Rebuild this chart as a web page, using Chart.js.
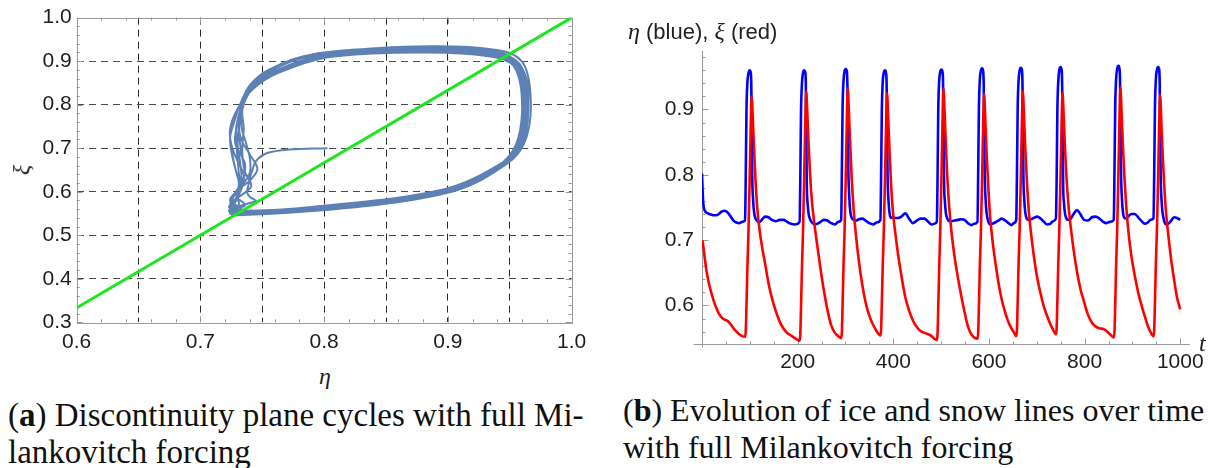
<!DOCTYPE html>
<html lang="en">
<head>
<meta charset="UTF-8">
<title>Discontinuity plane cycles</title>
<script src="https://cdn.jsdelivr.net/npm/chart.js"></script>
<style>
  body { margin: 0; background: #fff; width: 1210px; height: 468px; position: relative; overflow: hidden; font-family: 'Liberation Sans', Arial, sans-serif; }
  canvas { position: absolute; }
  #left { left: 0; top: 0; }
  #right { left: 600px; top: 0; }
  .lbl { position: absolute; color: #222; white-space: nowrap; line-height: 1; }
  .math { font-family: 'Liberation Serif', serif; font-style: italic; }
  .cap { position: absolute; font-family: 'Liberation Serif', serif; color: #111; white-space: nowrap; line-height: 1; }
</style>
</head>
<body>
<canvas id="left" width="600" height="360"></canvas>
<canvas id="right" width="610" height="380"></canvas>

<div class="lbl math" style="left:319px; top:364px; font-size:24px;">η</div>
<div class="lbl math" style="left:16px; top:158px; font-size:24px; transform:rotate(-90deg);">ξ</div>
<div class="lbl" style="left:628px; top:19px; font-size:22px;"><span class="math" style="font-size:24px">η</span> (blue), <span class="math" style="font-size:24px">ξ</span> (red)</div>
<div class="lbl math" style="left:1199px; top:331px; font-size:24px;">t</div>

<div class="cap" style="left:8px; top:399px; font-size:33px;">(<b>a</b>) Discontinuity plane cycles with full Mi-</div>
<div class="cap" style="left:8px; top:436px; font-size:33px;">lankovitch forcing</div>
<div class="cap" style="left:623px; top:394px; font-size:32px;">(<b>b</b>) Evolution of ice and snow lines over time</div>
<div class="cap" style="left:623px; top:431px; font-size:32px;">with full Milankovitch forcing</div>

<script>
// time samples, ice line (eta) and snow line (xi)
var tVals = [
  0, 1.5, 3, 6, 10, 15, 20, 25, 30, 35, 42, 48, 54, 60, 66, 72, 78, 84, 90,
  91.5, 93, 95, 97, 99.5, 102, 103, 104,
  105, 107, 109, 112, 116, 121, 126, 132, 139, 146, 154, 162, 170, 178, 186, 194, 204,
  205.5, 207, 209, 211, 213.5, 216, 217, 218,
  219, 221, 223, 226, 230, 235, 241, 248, 255, 262, 270, 278, 285, 291,
  292.5, 294, 296, 298, 300.5, 303, 304, 305,
  306, 308, 310, 313, 317, 322, 328, 335, 342, 350, 358, 365, 373,
  374.5, 376, 378, 380, 382.5, 385, 386, 387,
  388, 390, 392, 395, 399, 404, 410, 417, 425, 433, 441, 449, 457, 465, 473, 480, 486, 491,
  492.5, 494, 496, 498, 500.5, 503, 504, 505,
  506, 508, 510, 513, 517, 522, 528, 535, 542, 549, 556, 563, 569, 576,
  577.5, 579, 581, 583, 585.5, 588, 589, 590,
  591, 593, 595, 598, 602, 607, 613, 620, 627, 634, 641, 647, 652, 657,
  658.5, 660, 662, 664, 666.5, 669, 670, 671,
  672, 674, 676, 679, 683, 688, 694, 701, 708, 715, 722, 728, 734, 740,
  741.5, 743, 745, 747, 749.5, 752, 753, 754,
  755, 757, 759, 762, 766, 771, 777, 784, 791, 799, 807, 815, 823, 831, 839, 846, 853, 861,
  862.5, 864, 866, 868, 870.5, 873, 874, 875,
  876, 878, 880, 883, 887, 892, 898, 905, 912, 919, 926, 932, 938, 944,
  945.5, 947, 949, 951, 953.5, 956, 957, 958,
  959, 961, 963, 966, 970, 975, 981, 987, 993, 1000
];

var etaVals = [
  0.802, 0.772, 0.754, 0.745, 0.742, 0.740, 0.739, 0.738, 0.738, 0.740, 0.744, 0.745, 0.742, 0.736, 0.730, 0.727, 0.726, 0.728, 0.730,
  0.80, 0.90, 0.942, 0.955, 0.960, 0.956, 0.940, 0.880,
  0.80, 0.76, 0.742, 0.733, 0.729, 0.728, 0.732, 0.736, 0.735, 0.731, 0.729, 0.731, 0.731, 0.728, 0.725, 0.724, 0.728,
  0.79, 0.895, 0.940, 0.955, 0.960, 0.957, 0.942, 0.875,
  0.79, 0.755, 0.740, 0.732, 0.727, 0.724, 0.725, 0.728, 0.731, 0.730, 0.726, 0.724, 0.728, 0.731,
  0.81, 0.905, 0.945, 0.958, 0.962, 0.958, 0.938, 0.885,
  0.81, 0.765, 0.744, 0.734, 0.731, 0.730, 0.732, 0.733, 0.730, 0.726, 0.724, 0.727, 0.731,
  0.80, 0.898, 0.943, 0.956, 0.960, 0.955, 0.940, 0.878,
  0.80, 0.76, 0.742, 0.734, 0.735, 0.734, 0.734, 0.736, 0.741, 0.733, 0.726, 0.730, 0.733, 0.733, 0.728, 0.724, 0.725, 0.728,
  0.795, 0.90, 0.944, 0.957, 0.961, 0.957, 0.943, 0.882,
  0.795, 0.758, 0.741, 0.733, 0.729, 0.729, 0.730, 0.731, 0.732, 0.731, 0.726, 0.723, 0.725, 0.728,
  0.805, 0.903, 0.946, 0.959, 0.963, 0.958, 0.940, 0.876,
  0.805, 0.762, 0.742, 0.730, 0.724, 0.725, 0.727, 0.730, 0.733, 0.730, 0.726, 0.723, 0.726, 0.731,
  0.80, 0.90, 0.945, 0.959, 0.964, 0.960, 0.944, 0.884,
  0.80, 0.76, 0.742, 0.733, 0.731, 0.732, 0.734, 0.736, 0.733, 0.728, 0.724, 0.725, 0.729, 0.733,
  0.79, 0.897, 0.944, 0.960, 0.965, 0.960, 0.941, 0.879,
  0.79, 0.756, 0.741, 0.733, 0.731, 0.733, 0.740, 0.746, 0.740, 0.731, 0.730, 0.735, 0.736, 0.733, 0.728, 0.726, 0.728, 0.731,
  0.81, 0.905, 0.948, 0.962, 0.967, 0.962, 0.946, 0.886,
  0.81, 0.764, 0.744, 0.734, 0.733, 0.737, 0.740, 0.740, 0.735, 0.729, 0.725, 0.727, 0.731, 0.733,
  0.80, 0.90, 0.946, 0.960, 0.965, 0.961, 0.942, 0.880,
  0.80, 0.76, 0.742, 0.730, 0.724, 0.725, 0.730, 0.735, 0.734, 0.731
];

var xiVals = [
  0.700, 0.697, 0.689, 0.671, 0.650, 0.632, 0.618, 0.606, 0.596, 0.588, 0.581, 0.578, 0.576, 0.571, 0.565, 0.560, 0.556, 0.553, 0.552,
  0.561, 0.600, 0.660, 0.708, 0.788, 0.878, 0.908, 0.920,
  0.908, 0.872, 0.838, 0.790, 0.745, 0.712, 0.688, 0.664, 0.634, 0.612, 0.592, 0.576, 0.565, 0.558, 0.554, 0.550, 0.546,
  0.556, 0.596, 0.658, 0.708, 0.790, 0.884, 0.915, 0.928,
  0.915, 0.880, 0.845, 0.800, 0.758, 0.725, 0.692, 0.655, 0.622, 0.594, 0.570, 0.558, 0.553, 0.550,
  0.560, 0.602, 0.664, 0.712, 0.794, 0.888, 0.920, 0.932,
  0.918, 0.880, 0.845, 0.795, 0.748, 0.707, 0.668, 0.632, 0.605, 0.584, 0.570, 0.561, 0.554,
  0.563, 0.604, 0.664, 0.711, 0.790, 0.880, 0.912, 0.925,
  0.912, 0.875, 0.838, 0.790, 0.745, 0.712, 0.678, 0.645, 0.613, 0.592, 0.577, 0.567, 0.561, 0.558, 0.556, 0.553, 0.549, 0.547,
  0.557, 0.598, 0.660, 0.710, 0.792, 0.886, 0.920, 0.932,
  0.918, 0.882, 0.845, 0.795, 0.750, 0.710, 0.675, 0.643, 0.615, 0.590, 0.568, 0.556, 0.551, 0.549,
  0.559, 0.600, 0.662, 0.709, 0.788, 0.879, 0.911, 0.924,
  0.910, 0.872, 0.835, 0.790, 0.740, 0.702, 0.668, 0.634, 0.608, 0.589, 0.574, 0.565, 0.559, 0.553,
  0.562, 0.604, 0.666, 0.713, 0.792, 0.884, 0.916, 0.928,
  0.914, 0.877, 0.840, 0.795, 0.748, 0.710, 0.675, 0.642, 0.618, 0.598, 0.583, 0.572, 0.563, 0.556,
  0.565, 0.606, 0.667, 0.714, 0.792, 0.882, 0.914, 0.926,
  0.912, 0.876, 0.840, 0.797, 0.755, 0.720, 0.685, 0.652, 0.626, 0.605, 0.586, 0.574, 0.568, 0.565, 0.564, 0.561, 0.556, 0.551,
  0.561, 0.602, 0.665, 0.714, 0.795, 0.889, 0.922, 0.934,
  0.920, 0.882, 0.845, 0.800, 0.752, 0.710, 0.675, 0.645, 0.620, 0.600, 0.583, 0.569, 0.559, 0.553,
  0.562, 0.603, 0.664, 0.710, 0.788, 0.878, 0.910, 0.922,
  0.908, 0.870, 0.835, 0.790, 0.745, 0.708, 0.670, 0.640, 0.613, 0.594
];

// the green line xi = (5 eta - 2) / 3, given by its two ends
var diagEta = [0.6, 1.0];
var diagXi = [1 / 3, 1.0];

// tick labels and grid lines
var etaTicks = [0.6, 0.7, 0.8, 0.9, 1.0];
var etaGrid = [0.65, 0.7, 0.75, 0.8, 0.85, 0.9, 0.95];
var xiTicks = [0.3, 0.4, 0.5, 0.6, 0.7, 0.8, 0.9, 1.0];
var tTicks = [200, 400, 600, 800, 1000];
var lineTicks = [0.6, 0.7, 0.8, 0.9];

var tickFont = { family: "'Liberation Sans', Arial, sans-serif", size: 21 };
var tickColor = '#1e1e1e';
var frameGray = '#999999';

function tickList(vals) {
  return vals.map(function (v) { return { value: v }; });
}

// ---------- left: phase plane ----------
var phasePts = etaVals.map(function (e, i) { return { x: e, y: xiVals[i] }; });
var diagPts = diagEta.map(function (e, i) { return { x: e, y: diagXi[i] }; });

var xGridVals = etaTicks.concat(etaGrid).filter(function (v, i, a) { return a.indexOf(v) === i; })
  .sort(function (a, b) { return a - b; });

var frameTicks = {
  id: 'frameTicks',
  beforeDatasetsDraw: function (chart) {
    var ctx = chart.ctx, a = chart.chartArea, x = chart.scales.x, y = chart.scales.y;
    ctx.save();
    ctx.strokeStyle = frameGray;
    ctx.lineWidth = 1;
    ctx.strokeRect(Math.round(a.left) + 0.5, Math.round(a.top) + 0.5,
      Math.round(a.right - a.left), Math.round(a.bottom - a.top));
    ctx.beginPath();
    for (var k = 0; k <= 20; k++) {
      var len = (k % 5 === 0) ? 6 : 3;
      var px = Math.round(x.getPixelForValue(0.6 + k * 0.02)) + 0.5;
      ctx.moveTo(px, a.bottom); ctx.lineTo(px, a.bottom - len);
      ctx.moveTo(px, a.top); ctx.lineTo(px, a.top + len);
    }
    for (var j = 0; j <= 35; j++) {
      var ln = (j % 5 === 0) ? 6 : 3;
      var py = Math.round(y.getPixelForValue(0.3 + j * 0.02)) + 0.5;
      ctx.moveTo(a.left, py); ctx.lineTo(a.left + ln, py);
      ctx.moveTo(a.right, py); ctx.lineTo(a.right - ln, py);
    }
    ctx.stroke();
    ctx.restore();
  }
};

new Chart(document.getElementById('left'), {
  type: 'scatter',
  data: {
    datasets: [
      { data: diagPts, showLine: true, borderColor: '#1ee61e', borderWidth: 3, pointRadius: 0 },
      { data: phasePts, showLine: true, borderColor: '#5e81b5', borderWidth: 2, pointRadius: 0,
        tension: 0.35, borderJoinStyle: 'round', borderCapStyle: 'round' }
    ]
  },
  options: {
    responsive: false,
    animation: false,
    events: [],
    layout: { padding: { left: 0, top: 17.3, right: 28.3, bottom: 0 } },
    plugins: { legend: { display: false }, tooltip: { enabled: false } },
    scales: {
      x: {
        type: 'linear', min: 0.6, max: 1.0,
        afterBuildTicks: function (s) { s.ticks = tickList(xGridVals); },
        afterFit: function (s) { s.height = 360 - 322.3; },
        ticks: {
          autoSkip: false, maxRotation: 0, padding: 7, font: tickFont, color: tickColor,
          callback: function (v) { return etaTicks.indexOf(v) >= 0 ? v.toFixed(1) : ''; }
        },
        grid: {
          drawTicks: false, lineWidth: 1,
          color: function (c) { return (c.tick && c.tick.value > 0.6 && c.tick.value < 1.0) ? '#2a2a2a' : 'rgba(0,0,0,0)'; }
        },
        border: { display: false, dash: [7, 5] }
      },
      y: {
        type: 'linear', min: 0.3, max: 1.0,
        afterBuildTicks: function (s) { s.ticks = tickList(xiTicks); },
        afterFit: function (s) { s.width = 76.7; },
        ticks: {
          padding: 5, font: tickFont, color: tickColor,
          callback: function (v) { return v.toFixed(1); }
        },
        grid: {
          drawTicks: false, lineWidth: 1,
          color: function (c) { return (c.tick && c.tick.value > 0.3 && c.tick.value < 1.0) ? '#4a4a4a' : 'rgba(0,0,0,0)'; }
        },
        border: { display: false, dash: [7, 5] }
      }
    }
  },
  plugins: [frameTicks]
});

// ---------- right: time series ----------
var etaPts = tVals.map(function (t, i) { return { x: t, y: etaVals[i] }; });
var xiPts = tVals.map(function (t, i) { return { x: t, y: xiVals[i] }; });

var crossAxes = {
  id: 'crossAxes',
  beforeDatasetsDraw: function (chart) {
    var ctx = chart.ctx, a = chart.chartArea, x = chart.scales.x, y = chart.scales.y;
    var ox = Math.round(a.left) + 0.5, oy = Math.round(a.bottom) + 0.5;
    ctx.save();
    ctx.strokeStyle = frameGray;
    ctx.lineWidth = 1;
    ctx.beginPath();
    ctx.moveTo(ox - 9, oy); ctx.lineTo(a.right, oy);
    ctx.moveTo(ox, a.top); ctx.lineTo(ox, oy + 3);
    for (var k = 1; k <= 20; k++) {
      var t = k * 50;
      var px = Math.round(x.getPixelForValue(t)) + 0.5;
      var len = (t % 200 === 0) ? 6 : 3;
      ctx.moveTo(px, oy); ctx.lineTo(px, oy - len);
    }
    for (var j = 0; j <= 21; j++) {
      var py = Math.round(y.getPixelForValue(0.56 + j * 0.02)) + 0.5;
      var ln = (j % 5 === 2) ? 6 : 3;
      ctx.moveTo(ox, py); ctx.lineTo(ox + ln, py);
    }
    ctx.stroke();
    ctx.restore();
  }
};

new Chart(document.getElementById('right'), {
  type: 'line',
  data: {
    datasets: [
      { data: xiPts, borderColor: '#ff0000', borderWidth: 2.6, pointRadius: 0,
        cubicInterpolationMode: 'monotone', borderJoinStyle: 'round' },
      { data: etaPts, borderColor: '#0000ff', borderWidth: 2.6, pointRadius: 0,
        cubicInterpolationMode: 'monotone', borderJoinStyle: 'round' }
    ]
  },
  options: {
    responsive: false,
    animation: false,
    events: [],
    layout: { padding: { left: 0, top: 50.7, right: 19.4, bottom: 0 } },
    plugins: { legend: { display: false }, tooltip: { enabled: false } },
    scales: {
      x: {
        type: 'linear', min: 0, max: 1020,
        afterBuildTicks: function (s) { s.ticks = tickList(tTicks); },
        afterFit: function (s) { s.height = 380 - 344; },
        ticks: { autoSkip: false, maxRotation: 0, padding: 6, font: tickFont, color: tickColor,
          callback: function (v) { return String(v); } },
        grid: { display: false, drawTicks: false },
        border: { display: false }
      },
      y: {
        type: 'linear', min: 0.541, max: 0.99,
        afterBuildTicks: function (s) { s.ticks = tickList(lineTicks); },
        afterFit: function (s) { s.width = 102; },
        ticks: { padding: 8, font: tickFont, color: tickColor,
          callback: function (v) { return v.toFixed(1); } },
        grid: { display: false, drawTicks: false },
        border: { display: false }
      }
    }
  },
  plugins: [crossAxes]
});
</script>
</body>
</html>
